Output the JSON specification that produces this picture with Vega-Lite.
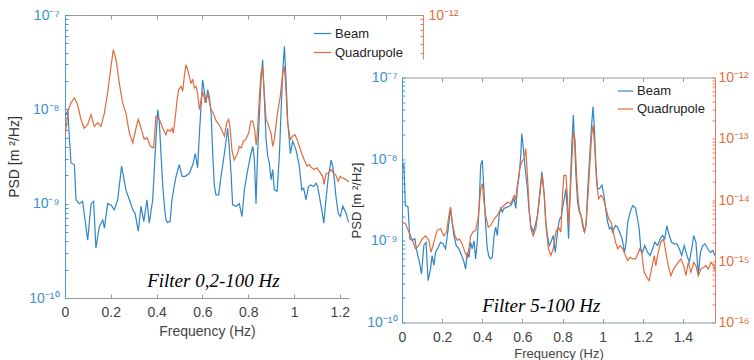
{
  "$schema": "https://vega.github.io/schema/vega-lite/v6.json",
  "background": "white",
  "padding": {"left": 7, "top": 8, "right": 0, "bottom": 0},
  "config": {
    "view": {"stroke": null},
    "font": "Liberation Sans",
    "axis": {"grid": false, "labelFont": "Liberation Sans", "titleFont": "Liberation Sans", "titleFontWeight": "normal", "labelFlush": false, "labelOverlap": false, "domainWidth": 1, "tickWidth": 1, "labelBound": false}
  },
  "datasets": {
    "left": [
      {"s":"Beam","f":0.000,"v":8.5e-9},{"s":"Beam","f":0.012,"v":9.6e-9},{"s":"Beam","f":0.026,"v":2.7e-9},{"s":"Beam","f":0.041,"v":2.6e-9},{"s":"Beam","f":0.048,"v":1.1e-9},{"s":"Beam","f":0.063,"v":1.0e-9},{"s":"Beam","f":0.077,"v":1.06e-9},{"s":"Beam","f":0.099,"v":4.1e-10},{"s":"Beam","f":0.114,"v":1.0e-9},{"s":"Beam","f":0.125,"v":1.06e-9},{"s":"Beam","f":0.135,"v":3.4e-10},{"s":"Beam","f":0.150,"v":5.7e-10},{"s":"Beam","f":0.165,"v":6.7e-10},{"s":"Beam","f":0.172,"v":5.5e-10},{"s":"Beam","f":0.186,"v":1.0e-9},{"s":"Beam","f":0.201,"v":9.7e-10},{"s":"Beam","f":0.215,"v":8.6e-10},{"s":"Beam","f":0.230,"v":1.1e-9},{"s":"Beam","f":0.247,"v":2.5e-9},{"s":"Beam","f":0.266,"v":1.4e-9},{"s":"Beam","f":0.281,"v":1.1e-9},{"s":"Beam","f":0.296,"v":8.6e-10},{"s":"Beam","f":0.306,"v":7.9e-10},{"s":"Beam","f":0.320,"v":5.1e-10},{"s":"Beam","f":0.332,"v":9.4e-10},{"s":"Beam","f":0.344,"v":6.5e-10},{"s":"Beam","f":0.358,"v":1.1e-9},{"s":"Beam","f":0.368,"v":6.2e-10},{"s":"Beam","f":0.383,"v":1.1e-9},{"s":"Beam","f":0.397,"v":4.8e-9},{"s":"Beam","f":0.405,"v":9.9e-9},{"s":"Beam","f":0.412,"v":7.2e-9},{"s":"Beam","f":0.419,"v":3.4e-9},{"s":"Beam","f":0.427,"v":1.54e-9},{"s":"Beam","f":0.434,"v":9.4e-10},{"s":"Beam","f":0.441,"v":6.7e-10},{"s":"Beam","f":0.448,"v":6.3e-10},{"s":"Beam","f":0.459,"v":6.5e-10},{"s":"Beam","f":0.467,"v":1.1e-9},{"s":"Beam","f":0.477,"v":1.54e-9},{"s":"Beam","f":0.485,"v":1.95e-9},{"s":"Beam","f":0.499,"v":2.6e-9},{"s":"Beam","f":0.511,"v":1.95e-9},{"s":"Beam","f":0.525,"v":1.95e-9},{"s":"Beam","f":0.543,"v":2.1e-9},{"s":"Beam","f":0.558,"v":2.6e-9},{"s":"Beam","f":0.569,"v":3.4e-9},{"s":"Beam","f":0.579,"v":2.4e-9},{"s":"Beam","f":0.587,"v":5.6e-9},{"s":"Beam","f":0.594,"v":1.08e-8},{"s":"Beam","f":0.601,"v":2.06e-8},{"s":"Beam","f":0.608,"v":1.55e-8},{"s":"Beam","f":0.616,"v":1.17e-8},{"s":"Beam","f":0.623,"v":1.61e-8},{"s":"Beam","f":0.630,"v":1.37e-8},{"s":"Beam","f":0.638,"v":9.1e-9},{"s":"Beam","f":0.645,"v":3.4e-9},{"s":"Beam","f":0.652,"v":1.54e-9},{"s":"Beam","f":0.659,"v":1.24e-9},{"s":"Beam","f":0.671,"v":1.24e-9},{"s":"Beam","f":0.681,"v":1.95e-9},{"s":"Beam","f":0.696,"v":3.4e-9},{"s":"Beam","f":0.710,"v":6.3e-9},{"s":"Beam","f":0.717,"v":4.05e-9},{"s":"Beam","f":0.725,"v":2.1e-9},{"s":"Beam","f":0.732,"v":9.7e-10},{"s":"Beam","f":0.747,"v":9.4e-10},{"s":"Beam","f":0.761,"v":1.0e-9},{"s":"Beam","f":0.773,"v":7.3e-10},{"s":"Beam","f":0.783,"v":1.4e-9},{"s":"Beam","f":0.798,"v":2.3e-9},{"s":"Beam","f":0.812,"v":3.4e-9},{"s":"Beam","f":0.820,"v":4.05e-9},{"s":"Beam","f":0.827,"v":2.9e-9},{"s":"Beam","f":0.834,"v":1.0e-9},{"s":"Beam","f":0.841,"v":3.4e-9},{"s":"Beam","f":0.849,"v":9.1e-9},{"s":"Beam","f":0.856,"v":2.06e-8},{"s":"Beam","f":0.863,"v":3.36e-8},{"s":"Beam","f":0.870,"v":1.37e-8},{"s":"Beam","f":0.878,"v":4.8e-9},{"s":"Beam","f":0.885,"v":3.2e-9},{"s":"Beam","f":0.892,"v":2.7e-9},{"s":"Beam","f":0.900,"v":1.8e-9},{"s":"Beam","f":0.907,"v":2.3e-9},{"s":"Beam","f":0.914,"v":1.4e-9},{"s":"Beam","f":0.926,"v":1.35e-9},{"s":"Beam","f":0.936,"v":3.2e-9},{"s":"Beam","f":0.943,"v":9.1e-9},{"s":"Beam","f":0.951,"v":2.6e-8},{"s":"Beam","f":0.958,"v":4.66e-8},{"s":"Beam","f":0.965,"v":2.06e-8},{"s":"Beam","f":0.972,"v":7.8e-9},{"s":"Beam","f":0.984,"v":3.4e-9},{"s":"Beam","f":0.994,"v":4.6e-9},{"s":"Beam","f":1.009,"v":3.7e-9},{"s":"Beam","f":1.023,"v":2.5e-9},{"s":"Beam","f":1.034,"v":1.4e-9},{"s":"Beam","f":1.042,"v":1.46e-9},{"s":"Beam","f":1.052,"v":1.1e-9},{"s":"Beam","f":1.063,"v":1.52e-9},{"s":"Beam","f":1.074,"v":1.58e-9},{"s":"Beam","f":1.086,"v":1.52e-9},{"s":"Beam","f":1.096,"v":1.65e-9},{"s":"Beam","f":1.103,"v":1.52e-9},{"s":"Beam","f":1.111,"v":1.19e-9},{"s":"Beam","f":1.121,"v":8.6e-10},{"s":"Beam","f":1.130,"v":6.2e-10},{"s":"Beam","f":1.140,"v":1.15e-9},{"s":"Beam","f":1.150,"v":1.95e-9},{"s":"Beam","f":1.162,"v":2.9e-9},{"s":"Beam","f":1.169,"v":2.5e-9},{"s":"Beam","f":1.176,"v":1.8e-9},{"s":"Beam","f":1.183,"v":1.19e-9},{"s":"Beam","f":1.193,"v":7.9e-10},{"s":"Beam","f":1.202,"v":7.3e-10},{"s":"Beam","f":1.213,"v":9.4e-10},{"s":"Beam","f":1.227,"v":7.9e-10},{"s":"Beam","f":1.237,"v":6.5e-10},{"s":"Beam","f":1.250,"v":6.0e-10},
      {"s":"Quadrupole","f":0.000,"v":5.2e-14},{"s":"Quadrupole","f":0.015,"v":9.9e-14},{"s":"Quadrupole","f":0.026,"v":1.17e-13},{"s":"Quadrupole","f":0.041,"v":1.32e-13},{"s":"Quadrupole","f":0.055,"v":1.12e-13},{"s":"Quadrupole","f":0.070,"v":7.8e-14},{"s":"Quadrupole","f":0.084,"v":6.3e-14},{"s":"Quadrupole","f":0.099,"v":6.9e-14},{"s":"Quadrupole","f":0.114,"v":8.8e-14},{"s":"Quadrupole","f":0.128,"v":6.6e-14},{"s":"Quadrupole","f":0.143,"v":7.2e-14},{"s":"Quadrupole","f":0.157,"v":6.6e-14},{"s":"Quadrupole","f":0.172,"v":9.1e-14},{"s":"Quadrupole","f":0.186,"v":1.49e-13},{"s":"Quadrupole","f":0.201,"v":2.86e-13},{"s":"Quadrupole","f":0.211,"v":4.3e-13},{"s":"Quadrupole","f":0.223,"v":3.36e-13},{"s":"Quadrupole","f":0.237,"v":1.9e-13},{"s":"Quadrupole","f":0.252,"v":1.17e-13},{"s":"Quadrupole","f":0.266,"v":9.1e-14},{"s":"Quadrupole","f":0.281,"v":5.6e-14},{"s":"Quadrupole","f":0.296,"v":4.4e-14},{"s":"Quadrupole","f":0.310,"v":6.3e-14},{"s":"Quadrupole","f":0.320,"v":7.8e-14},{"s":"Quadrupole","f":0.332,"v":6.3e-14},{"s":"Quadrupole","f":0.346,"v":4.8e-14},{"s":"Quadrupole","f":0.358,"v":5.0e-14},{"s":"Quadrupole","f":0.373,"v":4.05e-14},{"s":"Quadrupole","f":0.387,"v":3.9e-14},{"s":"Quadrupole","f":0.397,"v":8.4e-14},{"s":"Quadrupole","f":0.412,"v":7.8e-14},{"s":"Quadrupole","f":0.427,"v":6.3e-14},{"s":"Quadrupole","f":0.441,"v":5.4e-14},{"s":"Quadrupole","f":0.448,"v":6.1e-14},{"s":"Quadrupole","f":0.459,"v":5.85e-14},{"s":"Quadrupole","f":0.467,"v":6.3e-14},{"s":"Quadrupole","f":0.473,"v":5.6e-14},{"s":"Quadrupole","f":0.482,"v":8.4e-14},{"s":"Quadrupole","f":0.488,"v":1.17e-13},{"s":"Quadrupole","f":0.496,"v":1.61e-13},{"s":"Quadrupole","f":0.507,"v":1.75e-13},{"s":"Quadrupole","f":0.514,"v":1.55e-13},{"s":"Quadrupole","f":0.521,"v":2.24e-13},{"s":"Quadrupole","f":0.528,"v":2.97e-13},{"s":"Quadrupole","f":0.536,"v":2.6e-13},{"s":"Quadrupole","f":0.543,"v":2.24e-13},{"s":"Quadrupole","f":0.550,"v":1.9e-13},{"s":"Quadrupole","f":0.558,"v":2.06e-13},{"s":"Quadrupole","f":0.565,"v":1.68e-13},{"s":"Quadrupole","f":0.572,"v":1.75e-13},{"s":"Quadrupole","f":0.579,"v":1.49e-13},{"s":"Quadrupole","f":0.587,"v":9.9e-14},{"s":"Quadrupole","f":0.594,"v":1.26e-13},{"s":"Quadrupole","f":0.601,"v":1.55e-13},{"s":"Quadrupole","f":0.613,"v":1.17e-13},{"s":"Quadrupole","f":0.623,"v":1.49e-13},{"s":"Quadrupole","f":0.630,"v":1.22e-13},{"s":"Quadrupole","f":0.638,"v":9.9e-14},{"s":"Quadrupole","f":0.648,"v":9.1e-14},{"s":"Quadrupole","f":0.657,"v":7.8e-14},{"s":"Quadrupole","f":0.667,"v":7.2e-14},{"s":"Quadrupole","f":0.681,"v":6.3e-14},{"s":"Quadrupole","f":0.696,"v":5.2e-14},{"s":"Quadrupole","f":0.706,"v":7.2e-14},{"s":"Quadrupole","f":0.715,"v":7.8e-14},{"s":"Quadrupole","f":0.721,"v":6.3e-14},{"s":"Quadrupole","f":0.729,"v":3.7e-14},{"s":"Quadrupole","f":0.739,"v":2.9e-14},{"s":"Quadrupole","f":0.747,"v":3.2e-14},{"s":"Quadrupole","f":0.754,"v":3.4e-14},{"s":"Quadrupole","f":0.761,"v":4.05e-14},{"s":"Quadrupole","f":0.769,"v":3.9e-14},{"s":"Quadrupole","f":0.779,"v":4.6e-14},{"s":"Quadrupole","f":0.790,"v":4.8e-14},{"s":"Quadrupole","f":0.802,"v":5.6e-14},{"s":"Quadrupole","f":0.812,"v":7.5e-14},{"s":"Quadrupole","f":0.820,"v":7.5e-14},{"s":"Quadrupole","f":0.828,"v":6.1e-14},{"s":"Quadrupole","f":0.835,"v":4.2e-14},{"s":"Quadrupole","f":0.841,"v":6.1e-14},{"s":"Quadrupole","f":0.849,"v":1.37e-13},{"s":"Quadrupole","f":0.856,"v":2.43e-13},{"s":"Quadrupole","f":0.863,"v":2.86e-13},{"s":"Quadrupole","f":0.870,"v":1.49e-13},{"s":"Quadrupole","f":0.878,"v":7.8e-14},{"s":"Quadrupole","f":0.885,"v":7.2e-14},{"s":"Quadrupole","f":0.892,"v":6.3e-14},{"s":"Quadrupole","f":0.900,"v":5.6e-14},{"s":"Quadrupole","f":0.907,"v":4.05e-14},{"s":"Quadrupole","f":0.914,"v":4.8e-14},{"s":"Quadrupole","f":0.921,"v":6.6e-14},{"s":"Quadrupole","f":0.928,"v":9.1e-14},{"s":"Quadrupole","f":0.940,"v":1.37e-13},{"s":"Quadrupole","f":0.951,"v":2.43e-13},{"s":"Quadrupole","f":0.958,"v":2.86e-13},{"s":"Quadrupole","f":0.965,"v":1.61e-13},{"s":"Quadrupole","f":0.972,"v":7.2e-14},{"s":"Quadrupole","f":0.984,"v":4.8e-14},{"s":"Quadrupole","f":0.994,"v":5.2e-14},{"s":"Quadrupole","f":1.004,"v":5.4e-14},{"s":"Quadrupole","f":1.013,"v":4.8e-14},{"s":"Quadrupole","f":1.023,"v":4.05e-14},{"s":"Quadrupole","f":1.034,"v":3.4e-14},{"s":"Quadrupole","f":1.045,"v":2.9e-14},{"s":"Quadrupole","f":1.057,"v":2.5e-14},{"s":"Quadrupole","f":1.067,"v":2.6e-14},{"s":"Quadrupole","f":1.077,"v":2.4e-14},{"s":"Quadrupole","f":1.089,"v":2.3e-14},{"s":"Quadrupole","f":1.100,"v":2.4e-14},{"s":"Quadrupole","f":1.111,"v":2.2e-14},{"s":"Quadrupole","f":1.125,"v":1.95e-14},{"s":"Quadrupole","f":1.132,"v":1.6e-14},{"s":"Quadrupole","f":1.140,"v":2.1e-14},{"s":"Quadrupole","f":1.150,"v":2.1e-14},{"s":"Quadrupole","f":1.162,"v":2.3e-14},{"s":"Quadrupole","f":1.173,"v":2.1e-14},{"s":"Quadrupole","f":1.183,"v":2.0e-14},{"s":"Quadrupole","f":1.193,"v":1.72e-14},{"s":"Quadrupole","f":1.202,"v":1.95e-14},{"s":"Quadrupole","f":1.213,"v":1.87e-14},{"s":"Quadrupole","f":1.227,"v":1.8e-14},{"s":"Quadrupole","f":1.237,"v":1.72e-14},{"s":"Quadrupole","f":1.250,"v":1.8e-14}
    ],
    "right": [
      {"s":"Beam","f":0.000,"v":7.7e-9},{"s":"Beam","f":0.009,"v":8.8e-9},{"s":"Beam","f":0.017,"v":2.7e-9},{"s":"Beam","f":0.030,"v":2.6e-9},{"s":"Beam","f":0.039,"v":1.06e-9},{"s":"Beam","f":0.050,"v":1.01e-9},{"s":"Beam","f":0.064,"v":1.06e-9},{"s":"Beam","f":0.075,"v":7.2e-10},{"s":"Beam","f":0.087,"v":5.5e-10},{"s":"Beam","f":0.097,"v":3.9e-10},{"s":"Beam","f":0.109,"v":8.8e-10},{"s":"Beam","f":0.120,"v":9.6e-10},{"s":"Beam","f":0.130,"v":3.25e-10},{"s":"Beam","f":0.142,"v":4.5e-10},{"s":"Beam","f":0.150,"v":6.6e-10},{"s":"Beam","f":0.159,"v":5.0e-10},{"s":"Beam","f":0.167,"v":7.2e-10},{"s":"Beam","f":0.180,"v":8.3e-10},{"s":"Beam","f":0.192,"v":9.6e-10},{"s":"Beam","f":0.204,"v":9.2e-10},{"s":"Beam","f":0.217,"v":8.0e-10},{"s":"Beam","f":0.230,"v":1.4e-9},{"s":"Beam","f":0.242,"v":2.5e-9},{"s":"Beam","f":0.250,"v":1.7e-9},{"s":"Beam","f":0.259,"v":1.16e-9},{"s":"Beam","f":0.270,"v":8.8e-10},{"s":"Beam","f":0.284,"v":8.0e-10},{"s":"Beam","f":0.297,"v":6.6e-10},{"s":"Beam","f":0.309,"v":5.5e-10},{"s":"Beam","f":0.317,"v":4.5e-10},{"s":"Beam","f":0.325,"v":7.2e-10},{"s":"Beam","f":0.334,"v":6.3e-10},{"s":"Beam","f":0.342,"v":9.6e-10},{"s":"Beam","f":0.350,"v":8.0e-10},{"s":"Beam","f":0.359,"v":1.0e-9},{"s":"Beam","f":0.367,"v":6.0e-10},{"s":"Beam","f":0.375,"v":9.6e-10},{"s":"Beam","f":0.384,"v":2.5e-9},{"s":"Beam","f":0.392,"v":8.4e-9},{"s":"Beam","f":0.400,"v":9.7e-9},{"s":"Beam","f":0.409,"v":3.95e-9},{"s":"Beam","f":0.417,"v":1.54e-9},{"s":"Beam","f":0.425,"v":8.0e-10},{"s":"Beam","f":0.434,"v":6.3e-10},{"s":"Beam","f":0.442,"v":6.0e-10},{"s":"Beam","f":0.450,"v":6.3e-10},{"s":"Beam","f":0.459,"v":1.16e-9},{"s":"Beam","f":0.467,"v":1.47e-9},{"s":"Beam","f":0.475,"v":1.16e-9},{"s":"Beam","f":0.484,"v":2.05e-9},{"s":"Beam","f":0.492,"v":2.5e-9},{"s":"Beam","f":0.500,"v":2.25e-9},{"s":"Beam","f":0.509,"v":2.5e-9},{"s":"Beam","f":0.525,"v":2.6e-9},{"s":"Beam","f":0.542,"v":2.7e-9},{"s":"Beam","f":0.559,"v":3.3e-9},{"s":"Beam","f":0.567,"v":2.5e-9},{"s":"Beam","f":0.575,"v":4.35e-9},{"s":"Beam","f":0.584,"v":6.3e-9},{"s":"Beam","f":0.592,"v":1.12e-8},{"s":"Beam","f":0.597,"v":2.06e-8},{"s":"Beam","f":0.605,"v":1.35e-8},{"s":"Beam","f":0.614,"v":7.7e-9},{"s":"Beam","f":0.625,"v":4.35e-9},{"s":"Beam","f":0.634,"v":2.25e-9},{"s":"Beam","f":0.642,"v":1.54e-9},{"s":"Beam","f":0.654,"v":1.28e-9},{"s":"Beam","f":0.664,"v":1.54e-9},{"s":"Beam","f":0.675,"v":2.05e-9},{"s":"Beam","f":0.687,"v":3.95e-9},{"s":"Beam","f":0.697,"v":7.0e-9},{"s":"Beam","f":0.709,"v":3.6e-9},{"s":"Beam","f":0.717,"v":1.7e-9},{"s":"Beam","f":0.725,"v":1.16e-9},{"s":"Beam","f":0.734,"v":8.75e-10},{"s":"Beam","f":0.742,"v":9.6e-10},{"s":"Beam","f":0.754,"v":1.16e-9},{"s":"Beam","f":0.764,"v":7.2e-10},{"s":"Beam","f":0.775,"v":1.28e-9},{"s":"Beam","f":0.784,"v":1.8e-9},{"s":"Beam","f":0.794,"v":2.0e-9},{"s":"Beam","f":0.800,"v":2.5e-9},{"s":"Beam","f":0.809,"v":3.3e-9},{"s":"Beam","f":0.817,"v":4.35e-9},{"s":"Beam","f":0.825,"v":2.05e-9},{"s":"Beam","f":0.830,"v":1.06e-9},{"s":"Beam","f":0.839,"v":4.8e-9},{"s":"Beam","f":0.847,"v":1.63e-8},{"s":"Beam","f":0.854,"v":3.46e-8},{"s":"Beam","f":0.860,"v":1.63e-8},{"s":"Beam","f":0.867,"v":6.3e-9},{"s":"Beam","f":0.875,"v":3.0e-9},{"s":"Beam","f":0.884,"v":2.25e-9},{"s":"Beam","f":0.892,"v":2.05e-9},{"s":"Beam","f":0.900,"v":1.54e-9},{"s":"Beam","f":0.909,"v":1.28e-9},{"s":"Beam","f":0.917,"v":1.54e-9},{"s":"Beam","f":0.925,"v":3.95e-9},{"s":"Beam","f":0.937,"v":1.23e-8},{"s":"Beam","f":0.945,"v":2.6e-8},{"s":"Beam","f":0.952,"v":4.4e-8},{"s":"Beam","f":0.959,"v":2.38e-8},{"s":"Beam","f":0.967,"v":7.7e-9},{"s":"Beam","f":0.975,"v":4.35e-9},{"s":"Beam","f":0.984,"v":4.35e-9},{"s":"Beam","f":0.997,"v":4.8e-9},{"s":"Beam","f":1.009,"v":3.3e-9},{"s":"Beam","f":1.017,"v":2.25e-9},{"s":"Beam","f":1.025,"v":1.7e-9},{"s":"Beam","f":1.034,"v":1.4e-9},{"s":"Beam","f":1.042,"v":1.47e-9},{"s":"Beam","f":1.050,"v":1.28e-9},{"s":"Beam","f":1.064,"v":1.54e-9},{"s":"Beam","f":1.075,"v":1.47e-9},{"s":"Beam","f":1.084,"v":1.28e-9},{"s":"Beam","f":1.097,"v":1.06e-9},{"s":"Beam","f":1.109,"v":7.2e-10},{"s":"Beam","f":1.117,"v":9.6e-10},{"s":"Beam","f":1.125,"v":1.7e-9},{"s":"Beam","f":1.137,"v":2.25e-9},{"s":"Beam","f":1.150,"v":2.7e-9},{"s":"Beam","f":1.164,"v":2.5e-9},{"s":"Beam","f":1.175,"v":1.8e-9},{"s":"Beam","f":1.182,"v":1.4e-9},{"s":"Beam","f":1.190,"v":8.0e-10},{"s":"Beam","f":1.199,"v":7.2e-10},{"s":"Beam","f":1.210,"v":8.75e-10},{"s":"Beam","f":1.224,"v":7.2e-10},{"s":"Beam","f":1.237,"v":6.6e-10},{"s":"Beam","f":1.249,"v":8.0e-10},{"s":"Beam","f":1.260,"v":9.6e-10},{"s":"Beam","f":1.274,"v":8.75e-10},{"s":"Beam","f":1.287,"v":1.06e-9},{"s":"Beam","f":1.299,"v":1.16e-9},{"s":"Beam","f":1.310,"v":1.06e-9},{"s":"Beam","f":1.320,"v":1.54e-9},{"s":"Beam","f":1.332,"v":1.16e-9},{"s":"Beam","f":1.344,"v":9.6e-10},{"s":"Beam","f":1.357,"v":9.2e-10},{"s":"Beam","f":1.370,"v":9.2e-10},{"s":"Beam","f":1.382,"v":8.0e-10},{"s":"Beam","f":1.394,"v":6.6e-10},{"s":"Beam","f":1.407,"v":8.75e-10},{"s":"Beam","f":1.420,"v":6.6e-10},{"s":"Beam","f":1.432,"v":5.5e-10},{"s":"Beam","f":1.444,"v":8.0e-10},{"s":"Beam","f":1.454,"v":1.16e-9},{"s":"Beam","f":1.465,"v":9.6e-10},{"s":"Beam","f":1.477,"v":3.75e-10},{"s":"Beam","f":1.487,"v":7.2e-10},{"s":"Beam","f":1.499,"v":8.75e-10},{"s":"Beam","f":1.510,"v":9.2e-10},{"s":"Beam","f":1.524,"v":8.0e-10},{"s":"Beam","f":1.537,"v":7.2e-10},{"s":"Beam","f":1.549,"v":7.6e-10},{"s":"Beam","f":1.560,"v":6.6e-10},
      {"s":"Quadrupole","f":0.000,"v":4.35e-15},{"s":"Quadrupole","f":0.017,"v":4.1e-15},{"s":"Quadrupole","f":0.034,"v":3.0e-15},{"s":"Quadrupole","f":0.050,"v":2.3e-15},{"s":"Quadrupole","f":0.067,"v":1.6e-15},{"s":"Quadrupole","f":0.084,"v":1.8e-15},{"s":"Quadrupole","f":0.100,"v":2.3e-15},{"s":"Quadrupole","f":0.117,"v":2.6e-15},{"s":"Quadrupole","f":0.134,"v":2.2e-15},{"s":"Quadrupole","f":0.145,"v":1.4e-15},{"s":"Quadrupole","f":0.159,"v":2.05e-15},{"s":"Quadrupole","f":0.175,"v":3.2e-15},{"s":"Quadrupole","f":0.192,"v":3.4e-15},{"s":"Quadrupole","f":0.209,"v":2.6e-15},{"s":"Quadrupole","f":0.222,"v":3.0e-15},{"s":"Quadrupole","f":0.234,"v":5.6e-15},{"s":"Quadrupole","f":0.242,"v":7.7e-15},{"s":"Quadrupole","f":0.250,"v":4.35e-15},{"s":"Quadrupole","f":0.264,"v":2.6e-15},{"s":"Quadrupole","f":0.275,"v":2.2e-15},{"s":"Quadrupole","f":0.287,"v":2.3e-15},{"s":"Quadrupole","f":0.300,"v":1.9e-15},{"s":"Quadrupole","f":0.314,"v":1.4e-15},{"s":"Quadrupole","f":0.325,"v":1.16e-15},{"s":"Quadrupole","f":0.334,"v":1.6e-15},{"s":"Quadrupole","f":0.342,"v":2.6e-15},{"s":"Quadrupole","f":0.354,"v":3.0e-15},{"s":"Quadrupole","f":0.367,"v":3.2e-15},{"s":"Quadrupole","f":0.379,"v":4.9e-15},{"s":"Quadrupole","f":0.392,"v":1.5e-14},{"s":"Quadrupole","f":0.400,"v":1.85e-14},{"s":"Quadrupole","f":0.409,"v":9.2e-15},{"s":"Quadrupole","f":0.417,"v":5.6e-15},{"s":"Quadrupole","f":0.430,"v":3.6e-15},{"s":"Quadrupole","f":0.442,"v":3.84e-15},{"s":"Quadrupole","f":0.459,"v":4.9e-15},{"s":"Quadrupole","f":0.475,"v":5.6e-15},{"s":"Quadrupole","f":0.492,"v":7.2e-15},{"s":"Quadrupole","f":0.509,"v":8.2e-15},{"s":"Quadrupole","f":0.525,"v":9.2e-15},{"s":"Quadrupole","f":0.542,"v":8.7e-15},{"s":"Quadrupole","f":0.559,"v":1.19e-14},{"s":"Quadrupole","f":0.567,"v":1.05e-14},{"s":"Quadrupole","f":0.575,"v":1.73e-14},{"s":"Quadrupole","f":0.587,"v":3.25e-14},{"s":"Quadrupole","f":0.597,"v":4.2e-14},{"s":"Quadrupole","f":0.609,"v":4.75e-14},{"s":"Quadrupole","f":0.617,"v":6.9e-14},{"s":"Quadrupole","f":0.625,"v":2.53e-14},{"s":"Quadrupole","f":0.634,"v":7.2e-15},{"s":"Quadrupole","f":0.642,"v":3.4e-15},{"s":"Quadrupole","f":0.654,"v":2.6e-15},{"s":"Quadrupole","f":0.667,"v":3.4e-15},{"s":"Quadrupole","f":0.680,"v":7.2e-15},{"s":"Quadrupole","f":0.692,"v":1.73e-14},{"s":"Quadrupole","f":0.700,"v":2.53e-14},{"s":"Quadrupole","f":0.709,"v":1.19e-14},{"s":"Quadrupole","f":0.717,"v":3.84e-15},{"s":"Quadrupole","f":0.730,"v":1.6e-15},{"s":"Quadrupole","f":0.742,"v":1.24e-15},{"s":"Quadrupole","f":0.754,"v":1.6e-15},{"s":"Quadrupole","f":0.767,"v":3.0e-15},{"s":"Quadrupole","f":0.780,"v":3.6e-15},{"s":"Quadrupole","f":0.792,"v":3.0e-15},{"s":"Quadrupole","f":0.800,"v":1.19e-14},{"s":"Quadrupole","f":0.807,"v":2.53e-14},{"s":"Quadrupole","f":0.817,"v":2.53e-14},{"s":"Quadrupole","f":0.824,"v":1.19e-14},{"s":"Quadrupole","f":0.830,"v":3.84e-15},{"s":"Quadrupole","f":0.839,"v":1.35e-14},{"s":"Quadrupole","f":0.847,"v":4.75e-14},{"s":"Quadrupole","f":0.854,"v":1.3e-13},{"s":"Quadrupole","f":0.862,"v":1.0e-13},{"s":"Quadrupole","f":0.870,"v":2.53e-14},{"s":"Quadrupole","f":0.879,"v":9.2e-15},{"s":"Quadrupole","f":0.887,"v":6.3e-15},{"s":"Quadrupole","f":0.897,"v":4.9e-15},{"s":"Quadrupole","f":0.909,"v":3.0e-15},{"s":"Quadrupole","f":0.917,"v":3.84e-15},{"s":"Quadrupole","f":0.925,"v":9.2e-15},{"s":"Quadrupole","f":0.937,"v":4.2e-14},{"s":"Quadrupole","f":0.945,"v":1.14e-13},{"s":"Quadrupole","f":0.952,"v":1.67e-13},{"s":"Quadrupole","f":0.960,"v":7.8e-14},{"s":"Quadrupole","f":0.970,"v":1.96e-14},{"s":"Quadrupole","f":0.980,"v":1.05e-14},{"s":"Quadrupole","f":0.992,"v":1.19e-14},{"s":"Quadrupole","f":1.004,"v":1.05e-14},{"s":"Quadrupole","f":1.017,"v":7.2e-15},{"s":"Quadrupole","f":1.030,"v":4.9e-15},{"s":"Quadrupole","f":1.042,"v":4.35e-15},{"s":"Quadrupole","f":1.050,"v":3.4e-15},{"s":"Quadrupole","f":1.064,"v":2.05e-15},{"s":"Quadrupole","f":1.075,"v":1.6e-15},{"s":"Quadrupole","f":1.087,"v":1.8e-15},{"s":"Quadrupole","f":1.100,"v":1.6e-15},{"s":"Quadrupole","f":1.114,"v":1.24e-15},{"s":"Quadrupole","f":1.125,"v":1.03e-15},{"s":"Quadrupole","f":1.137,"v":1.16e-15},{"s":"Quadrupole","f":1.150,"v":1.09e-15},{"s":"Quadrupole","f":1.164,"v":1.09e-15},{"s":"Quadrupole","f":1.175,"v":1.3e-15},{"s":"Quadrupole","f":1.185,"v":1.6e-15},{"s":"Quadrupole","f":1.194,"v":1.4e-15},{"s":"Quadrupole","f":1.207,"v":6.6e-16},{"s":"Quadrupole","f":1.220,"v":5.5e-16},{"s":"Quadrupole","f":1.232,"v":4.8e-16},{"s":"Quadrupole","f":1.244,"v":7.5e-16},{"s":"Quadrupole","f":1.257,"v":1.24e-15},{"s":"Quadrupole","f":1.265,"v":8.5e-16},{"s":"Quadrupole","f":1.277,"v":1.4e-15},{"s":"Quadrupole","f":1.290,"v":2.05e-15},{"s":"Quadrupole","f":1.304,"v":2.3e-15},{"s":"Quadrupole","f":1.315,"v":1.4e-15},{"s":"Quadrupole","f":1.327,"v":8.5e-16},{"s":"Quadrupole","f":1.340,"v":5.8e-16},{"s":"Quadrupole","f":1.354,"v":7.5e-16},{"s":"Quadrupole","f":1.365,"v":8.5e-16},{"s":"Quadrupole","f":1.377,"v":9.6e-16},{"s":"Quadrupole","f":1.390,"v":1.09e-15},{"s":"Quadrupole","f":1.404,"v":8.5e-16},{"s":"Quadrupole","f":1.415,"v":5.8e-16},{"s":"Quadrupole","f":1.427,"v":9.6e-16},{"s":"Quadrupole","f":1.440,"v":6.6e-16},{"s":"Quadrupole","f":1.454,"v":9.6e-16},{"s":"Quadrupole","f":1.465,"v":8.5e-16},{"s":"Quadrupole","f":1.477,"v":5.8e-16},{"s":"Quadrupole","f":1.490,"v":7.5e-16},{"s":"Quadrupole","f":1.504,"v":8.0e-16},{"s":"Quadrupole","f":1.515,"v":8.5e-16},{"s":"Quadrupole","f":1.527,"v":7.5e-16},{"s":"Quadrupole","f":1.540,"v":9.6e-16},{"s":"Quadrupole","f":1.554,"v":8.5e-16},{"s":"Quadrupole","f":1.560,"v":7.0e-16}
    ],
    "notes": [
      {"panel":"left","f":0.648,"v":1.31e-10,"label":"Filter 0,2-100 Hz"},
      {"panel":"right","f":0.694,"v":1.33e-10,"label":"Filter 5-100 Hz"}
    ]
  },
  "spacing": 53,
  "bounds": "flush",
  "resolve": {"scale": {"color": "independent"}, "legend": {"color": "independent"}},
  "hconcat": [
    {
      "width": 284,
      "height": 283,
      "layer": [
        {
          "data": {"name": "left"},
          "transform": [{"filter": "datum.s == 'Beam'"}],
          "mark": {"type": "line", "clip": true, "strokeWidth": 1.2},
          "encoding": {
            "x": {"field": "f", "type": "quantitative", "scale": {"domain": [0, 1.24], "nice": false, "zero": false},
              "axis": {"orient": "bottom", "values": [0, 0.2, 0.4, 0.6, 0.8, 1, 1.2], "format": ".1~f", "domainColor": "#8c9aa8", "tickColor": "#8c9aa8", "tickSize": -4, "labelPadding": 11, "labelColor": "#444", "labelFontSize": 14, "title": "Frequency (Hz)", "titleColor": "#444", "titleFontSize": 14, "titlePadding": 5}},
            "y": {"field": "v", "type": "quantitative", "scale": {"type": "log", "domain": [1e-10, 1e-7], "nice": false},
              "axis": {"orient": "left", "values": [1e-10,2e-10,3e-10,4e-10,5e-10,6e-10,7e-10,8e-10,9e-10,1e-9,2e-9,3e-9,4e-9,5e-9,6e-9,7e-9,8e-9,9e-9,1e-8,2e-8,3e-8,4e-8,5e-8,6e-8,7e-8,8e-8,9e-8,1e-7],
                "labelExpr": "abs(log(datum.value)/LN10 - round(log(datum.value)/LN10)) > 0.01 ? '' : (-round(log(datum.value)/LN10) >= 10 ? '10⁻¹' + substring('⁰¹²³⁴⁵⁶⁷⁸⁹', -round(log(datum.value)/LN10) - 10, -round(log(datum.value)/LN10) - 9) : '10⁻' + substring('⁰¹²³⁴⁵⁶⁷⁸⁹', -round(log(datum.value)/LN10), -round(log(datum.value)/LN10) + 1))",
                "domainColor": "#4a98d3", "tickColor": "#4a98d3", "tickSize": -3, "labelPadding": 9, "labelColor": "#3d8fd0", "labelFontSize": 14, "title": "PSD [m ²/Hz]", "titleColor": "#333", "titleFontSize": 14, "titlePadding": 7}},
            "color": {"field": "s", "type": "nominal", "scale": {"domain": ["Beam", "Quadrupole"], "range": ["#2e86c9", "#e06c3c"]},
              "legend": {"orient": "none", "legendX": 248, "legendY": 9, "title": null, "symbolType": "stroke", "symbolSize": 300, "symbolStrokeWidth": 1.2, "labelFontSize": 13, "labelFont": "Liberation Sans", "labelColor": "#222", "rowPadding": 2, "labelOffset": 3, "padding": 0}}
          }
        },
        {
          "data": {"name": "left"},
          "transform": [{"filter": "datum.s == 'Quadrupole'"}],
          "mark": {"type": "line", "clip": true, "strokeWidth": 1.2},
          "encoding": {
            "x": {"field": "f", "type": "quantitative", "scale": {"domain": [0, 1.5634], "range": [0, 358], "nice": false, "zero": false},
              "axis": {"orient": "top", "values": [0, 0.2, 0.4, 0.6, 0.8, 1, 1.2, 1.4], "labels": false, "domainColor": "#999", "tickColor": "#999", "tickSize": -4, "title": null}},
            "y": {"field": "v", "type": "quantitative", "scale": {"type": "log", "domain": [1e-15, 1e-12], "nice": false}, "axis": null},
            "color": {"field": "s", "type": "nominal", "scale": {"domain": ["Beam", "Quadrupole"], "range": ["#2e86c9", "#e06c3c"]}}
          }
        },
        {
          "data": {"name": "notes"},
          "transform": [{"filter": "datum.panel == 'left'"}],
          "mark": {"type": "text", "font": "Liberation Serif", "fontStyle": "italic", "fontSize": 19, "color": "#000", "align": "center", "baseline": "alphabetic"},
          "encoding": {
            "x": {"field": "f", "type": "quantitative", "scale": {"domain": [0, 1.24], "nice": false, "zero": false}, "axis": null},
            "y": {"field": "v", "type": "quantitative", "scale": {"type": "log", "domain": [1e-10, 1e-7], "nice": false}, "axis": null},
            "text": {"field": "label"}
          }
        }
      ],
      "resolve": {"scale": {"x": "independent", "y": "independent"}}
    },
    {
      "spacing": 18.5,
      "bounds": "flush",
      "resolve": {"scale": {"color": "independent"}, "legend": {"color": "independent"}},
      "vconcat": [
        {
          "width": 21,
          "height": 44,
          "data": {"name": "left"},
          "transform": [{"filter": "datum.s == 'Quadrupole'"}],
          "mark": {"type": "point", "opacity": 0, "clip": true},
          "encoding": {
            "y": {"field": "v", "type": "quantitative", "scale": {"type": "log", "domain": [3.5e-13, 1e-12], "nice": false},
              "axis": {"orient": "right", "values": [4e-13, 5e-13, 6e-13, 7e-13, 8e-13, 9e-13, 1e-12],
                "labelExpr": "abs(log(datum.value)/LN10 - round(log(datum.value)/LN10)) > 0.01 ? '' : '10⁻¹²'",
                "domainColor": "#ec7a60", "tickColor": "#ec7a60", "tickSize": -3, "labelPadding": 8, "labelColor": "#e07040", "labelFontSize": 14, "title": null}}
          }
        },
        {
          "width": 313,
          "height": 245,
          "layer": [
            {
              "data": {"name": "right"},
              "transform": [{"filter": "datum.s == 'Beam'"}],
              "mark": {"type": "line", "clip": true, "strokeWidth": 1.2},
              "encoding": {
                "x": {"field": "f", "type": "quantitative", "scale": {"domain": [0, 1.56], "nice": false, "zero": false},
                  "axis": {"orient": "bottom", "values": [0, 0.2, 0.4, 0.6, 0.8, 1, 1.2, 1.4], "format": ".1~f", "domainColor": "#8c9aa8", "tickColor": "#8c9aa8", "tickSize": -4, "labelPadding": 12, "labelColor": "#444", "labelFontSize": 14, "title": "Frequency (Hz)", "titleColor": "#444", "titleFontSize": 13, "titlePadding": 3}},
                "y": {"field": "v", "type": "quantitative", "scale": {"type": "log", "domain": [1e-10, 1e-7], "nice": false},
                  "axis": {"orient": "left", "values": [1e-10,2e-10,3e-10,4e-10,5e-10,6e-10,7e-10,8e-10,9e-10,1e-9,2e-9,3e-9,4e-9,5e-9,6e-9,7e-9,8e-9,9e-9,1e-8,2e-8,3e-8,4e-8,5e-8,6e-8,7e-8,8e-8,9e-8,1e-7],
                    "labelExpr": "abs(log(datum.value)/LN10 - round(log(datum.value)/LN10)) > 0.01 ? '' : (-round(log(datum.value)/LN10) >= 10 ? '10⁻¹' + substring('⁰¹²³⁴⁵⁶⁷⁸⁹', -round(log(datum.value)/LN10) - 10, -round(log(datum.value)/LN10) - 9) : '10⁻' + substring('⁰¹²³⁴⁵⁶⁷⁸⁹', -round(log(datum.value)/LN10), -round(log(datum.value)/LN10) + 1))",
                    "domainColor": "#4a98d3", "tickColor": "#4a98d3", "tickSize": -3, "labelPadding": 8, "labelColor": "#3d8fd0", "labelFontSize": 14, "title": "PSD [m ²/Hz]", "titleColor": "#333", "titleFontSize": 13, "titlePadding": 3}},
                "color": {"field": "s", "type": "nominal", "scale": {"domain": ["Beam", "Quadrupole"], "range": ["#2e86c9", "#e06c3c"]},
                  "legend": {"orient": "none", "legendX": 215, "legendY": 5, "title": null, "symbolType": "stroke", "symbolSize": 240, "symbolStrokeWidth": 1.2, "labelFontSize": 13, "labelFont": "Liberation Sans", "labelColor": "#222", "rowPadding": 2, "labelOffset": 3, "padding": 0}}
              }
            },
            {
              "data": {"name": "right"},
              "transform": [{"filter": "datum.s == 'Quadrupole'"}],
              "mark": {"type": "line", "clip": true, "strokeWidth": 1.2},
              "encoding": {
                "x": {"field": "f", "type": "quantitative", "scale": {"domain": [0, 1.56], "nice": false, "zero": false},
                  "axis": {"orient": "top", "values": [0, 0.2, 0.4, 0.6, 0.8, 1, 1.2, 1.4], "labels": false, "domainColor": "#999", "tickColor": "#999", "tickSize": -4, "title": null}},
                "y": {"field": "v", "type": "quantitative", "scale": {"type": "log", "domain": [1e-16, 1e-12], "nice": false},
                  "axis": {"orient": "right", "values": [1e-16,2e-16,3e-16,4e-16,5e-16,6e-16,7e-16,8e-16,9e-16,1e-15,2e-15,3e-15,4e-15,5e-15,6e-15,7e-15,8e-15,9e-15,1e-14,2e-14,3e-14,4e-14,5e-14,6e-14,7e-14,8e-14,9e-14,1e-13,2e-13,3e-13,4e-13,5e-13,6e-13,7e-13,8e-13,9e-13,1e-12],
                    "labelExpr": "abs(log(datum.value)/LN10 - round(log(datum.value)/LN10)) > 0.01 ? '' : (-round(log(datum.value)/LN10) >= 10 ? '10⁻¹' + substring('⁰¹²³⁴⁵⁶⁷⁸⁹', -round(log(datum.value)/LN10) - 10, -round(log(datum.value)/LN10) - 9) : '10⁻' + substring('⁰¹²³⁴⁵⁶⁷⁸⁹', -round(log(datum.value)/LN10), -round(log(datum.value)/LN10) + 1))",
                    "domainColor": "#ec7a60", "tickColor": "#ec7a60", "tickSize": -3, "labelPadding": 6, "labelColor": "#e07040", "labelFontSize": 14, "title": null}},
                "color": {"field": "s", "type": "nominal", "scale": {"domain": ["Beam", "Quadrupole"], "range": ["#2e86c9", "#e06c3c"]}}
              }
            },
            {
              "data": {"name": "notes"},
              "transform": [{"filter": "datum.panel == 'right'"}],
              "mark": {"type": "text", "font": "Liberation Serif", "fontStyle": "italic", "fontSize": 19, "color": "#000", "align": "center", "baseline": "alphabetic"},
              "encoding": {
                "x": {"field": "f", "type": "quantitative", "scale": {"domain": [0, 1.56], "nice": false, "zero": false}, "axis": null},
                "y": {"field": "v", "type": "quantitative", "scale": {"type": "log", "domain": [1e-10, 1e-7], "nice": false}, "axis": null},
                "text": {"field": "label"}
              }
            }
          ],
          "resolve": {"scale": {"y": "independent"}, "axis": {"x": "independent"}}
        }
      ]
    }
  ]
}
